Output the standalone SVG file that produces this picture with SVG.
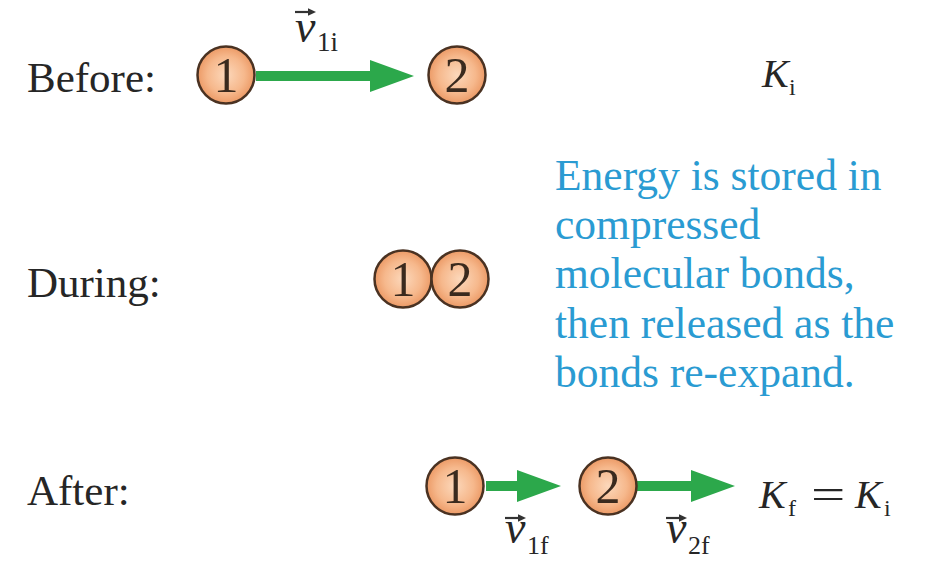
<svg xmlns="http://www.w3.org/2000/svg" width="927" height="561" viewBox="0 0 927 561">
  <defs>
    <radialGradient id="ballFill" cx="50%" cy="50%" r="50%">
      <stop offset="0%" stop-color="#fcd8bb"/>
      <stop offset="65%" stop-color="#f6b88c"/>
      <stop offset="100%" stop-color="#ec9a66"/>
    </radialGradient>
    <marker id="head" markerUnits="userSpaceOnUse" markerWidth="44" markerHeight="32" refX="0" refY="16" orient="auto">
      <path d="M0,0 L44,16 L0,32 z" fill="#2ca84b"/>
    </marker>
    <g id="vec">
      <path d="M0,0 H15" stroke="#333" stroke-width="2.2" fill="none"/>
      <path d="M13,-3.8 L21,0 L13,3.8 z" fill="#333"/>
    </g>
  </defs>
  <style>
    .lbl { font-family: "Liberation Serif", "Times New Roman", serif; font-size: 43px; fill: #262626; }
    .note { font-family: "Liberation Serif", "Times New Roman", serif; font-size: 43.5px; fill: #2a9bd2; }
    .ball { fill: url(#ballFill); stroke: #4a3222; stroke-width: 2.5; }
    .num { font-family: "Liberation Serif", "Times New Roman", serif; font-size: 50px; fill: #3a2a1e; text-anchor: middle; }
    .sym { font-family: "Liberation Serif", "Times New Roman", serif; font-style: italic; fill: #262626; }
    .sub { font-family: "Liberation Serif", "Times New Roman", serif; fill: #262626; }
    .arrow { stroke: #2ca84b; stroke-width: 10; fill: none; marker-end: url(#head); }
  </style>
  <rect width="927" height="561" fill="#ffffff"/>

  <!-- Row labels -->
  <text class="lbl" x="27" y="92">Before:</text>
  <text class="lbl" x="27" y="297">During:</text>
  <text class="lbl" x="27" y="505">After:</text>

  <!-- Connectors (velocity vectors) -->
  <g id="connectors">
    <line class="arrow" x1="256" y1="76" x2="370" y2="76"/>
    <line class="arrow" x1="486" y1="486" x2="517" y2="486"/>
    <line class="arrow" x1="636" y1="486" x2="691" y2="486"/>
  </g>

  <!-- Before -->
  <g id="before-ball1">
    <circle class="ball" cx="226" cy="75" r="28.5"/>
    <text class="num" x="226" y="92">1</text>
  </g>
  <g id="before-ball2">
    <circle class="ball" cx="457" cy="75" r="28.5"/>
    <text class="num" x="457" y="92">2</text>
  </g>
  <g id="label-v1i">
    <use href="#vec" x="295" y="12"/>
    <text class="sym" x="295" y="42" font-size="46">v</text>
    <text class="sub" x="317" y="51" font-size="27">1i</text>
  </g>
  <g id="label-Ki">
    <text class="sym" x="762" y="87" font-size="40">K</text>
    <text class="sub" x="789" y="95" font-size="24">i</text>
  </g>

  <!-- During -->
  <g id="during-ball1">
    <circle class="ball" cx="403" cy="279" r="28.5"/>
    <text class="num" x="403" y="296">1</text>
  </g>
  <g id="during-ball2">
    <circle class="ball" cx="460" cy="279" r="28.5"/>
    <text class="num" x="460" y="296">2</text>
  </g>
  <g id="note">
    <text class="note" x="555" y="190">Energy is stored in</text>
    <text class="note" x="555" y="239">compressed</text>
    <text class="note" x="555" y="288">molecular bonds,</text>
    <text class="note" x="555" y="338">then released as the</text>
    <text class="note" x="555" y="387">bonds re-expand.</text>
  </g>

  <!-- After -->
  <g id="after-ball1">
    <circle class="ball" cx="455" cy="486" r="28.5"/>
    <text class="num" x="455" y="503">1</text>
  </g>
  <g id="after-ball2">
    <circle class="ball" cx="608" cy="486" r="28.5"/>
    <text class="num" x="608" y="503">2</text>
  </g>
  <g id="label-v1f">
    <use href="#vec" x="505" y="518"/>
    <text class="sym" x="505" y="543" font-size="46">v</text>
    <text class="sub" x="527" y="554" font-size="26">1f</text>
  </g>
  <g id="label-v2f">
    <use href="#vec" x="666" y="518"/>
    <text class="sym" x="666" y="543" font-size="46">v</text>
    <text class="sub" x="688" y="554" font-size="26">2f</text>
  </g>
  <g id="label-KfKi">
    <text class="sym" x="759" y="508" font-size="40">K</text>
    <text class="sub" x="788" y="516" font-size="24">f</text>
    <text class="sub" font-size="42" transform="translate(811,508) scale(1.45,1)">=</text>
    <text class="sym" x="855" y="508" font-size="40">K</text>
    <text class="sub" x="884" y="516" font-size="24">i</text>
  </g>
</svg>
